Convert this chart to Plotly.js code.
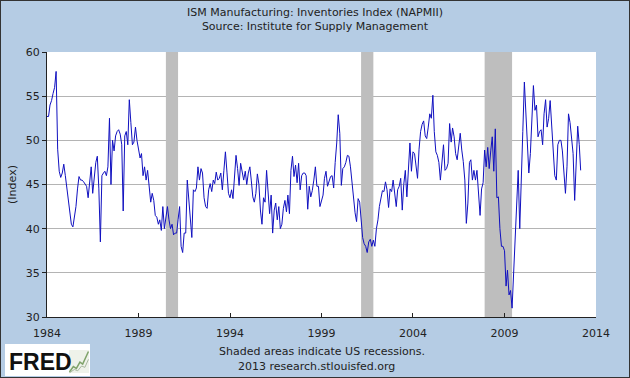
<!DOCTYPE html>
<html>
<head>
<meta charset="utf-8">
<script src="https://cdn.plot.ly/plotly-3.0.1.min.js"></script>
<style>
  html, body { margin: 0; padding: 0; background: #ffffff; }
  #frame { width: 630px; height: 378px; box-sizing: border-box; border: 1px solid #333; background: #B5CCE4; }
  #chart { width: 628px; height: 376px; }
</style>
</head>
<body>
<div id="frame"><div id="chart"></div></div>
<script>
// ISM Manufacturing: Inventories Index (NAPMII), monthly, starting Jan 1984
const startYear = 1984;
const v1984_1988 = [
  52.7, 52.7, 54.0, 54.5, 55.3, 56.0, 57.8, 49.0, 46.5, 45.8, 46.3, 47.3,
  46.0, 44.5, 43.8, 42.0, 40.5, 40.2, 41.2, 42.5, 44.5, 45.9, 45.5, 45.5,
  45.3, 45.0, 44.8, 43.5, 45.5, 47.0, 44.0, 46.0, 47.5, 48.2, 44.5, 38.5,
  46.0, 46.3, 46.5, 46.0, 47.0, 52.5, 45.0, 50.0, 48.8, 50.5, 51.0, 51.2,
  50.7, 49.5, 42.0, 50.5, 51.0, 49.5, 54.6, 52.0, 49.5, 49.8, 51.5, 50.0
];
const v1989_1993 = [
  49.0, 48.0, 48.5, 46.0, 47.0, 45.5, 46.6, 44.5, 43.0, 44.0, 43.2, 41.5,
  41.3, 40.5, 41.0, 39.8, 42.5, 40.0, 41.0, 42.5, 41.0, 40.0, 40.5, 39.3,
  39.5, 39.5, 41.0, 42.5, 38.0, 37.3, 39.5, 39.5, 45.5, 43.0, 41.5, 39.0,
  44.4, 44.2, 44.6, 47.0, 45.5, 46.8, 46.3, 43.5, 42.5, 42.3, 44.4, 45.1,
  44.2, 45.5, 45.1, 46.4, 45.5, 45.7, 46.3, 44.4, 46.6, 48.7, 46.4, 44.0
];
const v1994_1998 = [
  43.5, 44.4, 43.4, 46.0, 48.3, 46.8, 44.9, 47.4, 46.6, 45.5, 46.5, 45.0,
  46.3, 47.0, 45.5, 43.6, 43.0, 44.0, 46.2, 45.0, 42.0, 40.5, 43.5, 43.0,
  46.6, 44.4, 41.7, 43.8, 39.5, 42.1, 42.9, 41.0, 42.5, 40.0, 40.5, 42.3,
  43.2, 41.9, 43.8, 41.7, 46.6, 48.2, 45.9, 47.2, 45.2, 47.4, 44.4, 46.0,
  46.3, 46.3, 46.0, 42.2, 44.8, 43.6, 44.3, 45.5, 47.0, 44.8, 44.8, 42.5
];
const v1999_2003 = [
  43.2, 43.8, 45.7, 46.5, 44.8, 45.3, 45.9, 46.0, 44.6, 47.5, 49.7, 52.9,
  50.8, 44.9, 46.8, 47.0, 47.5, 48.3, 48.2, 47.0, 45.1, 44.0, 41.8, 40.8,
  43.4, 43.0, 40.5, 39.0, 38.3, 38.0, 37.3, 38.5, 38.8, 38.0, 38.7, 38.0,
  40.0, 41.0, 42.5, 43.6, 44.3, 44.2, 45.3, 44.4, 42.4, 44.5, 44.2, 45.5,
  43.6, 42.5, 44.4, 44.8, 45.7, 42.1, 45.0, 46.6, 43.6, 46.2, 49.7, 46.5
];
const v2004_2008 = [
  48.7, 48.5, 47.3, 45.7, 49.0, 51.0, 51.8, 52.2, 50.5, 50.2, 51.5, 53.0,
  52.5, 55.1, 51.0, 48.7, 48.3, 47.5, 45.5, 48.0, 49.5, 46.6, 46.8, 47.4,
  51.9, 49.8, 51.4, 50.4, 48.5, 47.8, 49.3, 50.8, 48.9, 47.6, 45.5, 40.6,
  42.9, 47.5, 47.8, 45.5, 46.6, 45.5, 46.6, 44.5, 41.5, 44.5, 45.2, 48.9,
  47.0, 49.2, 46.8, 48.8, 50.4, 46.5, 51.3, 43.5, 43.6, 40.0, 38.0, 38.0
];
const v2009_2013 = [
  37.5, 33.5, 35.3, 32.5, 33.0, 31.0, 35.0, 39.6, 44.5, 46.6, 40.0, 47.0,
  51.0, 56.6, 53.5, 49.0, 46.3, 48.5, 52.3, 56.2, 53.4, 54.0, 50.4, 51.0,
  51.2, 49.5, 53.0, 54.6, 51.5, 52.5, 54.5, 51.5, 49.0, 46.0, 45.5, 49.5,
  50.0, 50.0, 48.8, 46.8, 44.0, 47.0, 53.0, 52.0, 50.3, 48.5, 43.2, 47.0,
  51.6, 49.5, 46.6
];

// NBER recessions
const recessionStarts = ['1990-07-01', '2001-03-01', '2007-12-01'];
const recessionEnds   = ['1991-03-01', '2001-11-01', '2009-06-01'];

const xTickYears = ['1984', '1989', '1994', '1999', '2004', '2009', '2014'];
const yTicks = [30, 35, 40, 45, 50, 55, 60];

const values = [].concat(v1984_1988, v1989_1993, v1994_1998, v1999_2003, v2004_2008, v2009_2013);
const dates = values.map((v, i) => {
  const y = startYear + Math.floor(i / 12);
  const m = (i % 12) + 1;
  return y + '-' + (m < 10 ? '0' + m : m) + '-01';
});

const font = 'DejaVu Sans, Verdana, sans-serif';
const traces = [];
recessionStarts.forEach((s, k) => {
  const e = recessionEnds[k];
  traces.push({
    x: [s, s, e, e], y: [yTicks[0], yTicks[yTicks.length - 1], yTicks[yTicks.length - 1], yTicks[0]],
    type: 'scatter', mode: 'lines', fill: 'toself', fillcolor: '#BEBEBE',
    line: {width: 0, color: '#BEBEBE'}, hoverinfo: 'skip', showlegend: false
  });
});
traces.push({
  x: dates, y: values, type: 'scatter', mode: 'lines',
  line: {color: '#1010C0', width: 1}, showlegend: false
});

const layout = {
  width: 628, height: 376,
  margin: {l: 46, r: 33, t: 51, b: 60},
  paper_bgcolor: '#B5CCE4', plot_bgcolor: '#FFFFFF',
  font: {family: font, size: 11, color: '#222222'},
  title: {
    text: 'ISM Manufacturing: Inventories Index (NAPMII)<br>Source: Institute for Supply Management',
    font: {family: font, size: 11, color: '#222222'},
    x: 0.5, xref: 'container', xanchor: 'center',
    y: 0.96, yref: 'container', yanchor: 'top'
  },
  xaxis: {
    type: 'date',
    range: [xTickYears[0] + '-01-01', xTickYears[xTickYears.length - 1] + '-01-01'],
    tickvals: xTickYears.map(y => y + '-01-01'), ticktext: xTickYears,
    ticks: 'inside', ticklen: 4, tickcolor: '#222', tickwidth: 1,
    showgrid: false, zeroline: false,
    showline: true, linecolor: '#222', linewidth: 1,
    tickfont: {family: font, size: 11, color: '#222'},
    ticklabelstandoff: 6
  },
  yaxis: {
    range: [yTicks[0], yTicks[yTicks.length - 1]],
    tickvals: yTicks,
    ticks: 'outside', ticklen: 4, tickcolor: '#222', tickwidth: 1,
    showgrid: true, gridcolor: '#B4B4B4', gridwidth: 1, zeroline: false,
    showline: true, linecolor: '#222', linewidth: 1,
    tickfont: {family: font, size: 11, color: '#222'},
    title: {text: '(Index)', font: {family: font, size: 11, color: '#222'}, standoff: 6}
  },
  shapes: [
    {type: 'rect', xref: 'paper', yref: 'paper', x0: -0.0765, x1: 0.0783, y0: -0.2226, y1: -0.1019,
     fillcolor: '#FFFFFF', line: {width: 0}, layer: 'above'},
    {type: 'rect', xref: 'paper', yref: 'paper', x0: 0.0400, x1: 0.0765, y0: -0.2113, y1: -0.1245,
     fillcolor: '#EEF2EA', line: {width: 0}, layer: 'above'},
    {type: 'path', xref: 'paper', yref: 'paper', layer: 'above',
     path: 'M 0.0410 -0.2075 L 0.0480 -0.1870 L 0.0535 -0.1940 L 0.0600 -0.1700 L 0.0650 -0.1780 L 0.0755 -0.1300',
     line: {color: '#7FA36A', width: 1.5}},
    {type: 'path', xref: 'paper', yref: 'paper', layer: 'above',
     path: 'M 0.0410 -0.2100 L 0.0500 -0.1980 L 0.0560 -0.2030 L 0.0630 -0.1850 L 0.0690 -0.1900 L 0.0755 -0.1600',
     line: {color: '#A9B8A0', width: 1}}
  ],
  annotations: [
    {text: 'Shaded areas indicate US recessions.', xref: 'paper', yref: 'paper',
     x: 0.5, y: -0.13, xanchor: 'center', yanchor: 'middle', showarrow: false,
     font: {family: font, size: 11, color: '#222'}},
    {text: '2013 research.stlouisfed.org', xref: 'paper', yref: 'paper',
     x: 0.49, y: -0.185, xanchor: 'center', yanchor: 'middle', showarrow: false,
     font: {family: font, size: 11, color: '#222'}},
    {text: '<b>FRED</b>', xref: 'paper', yref: 'paper',
     x: -0.072, y: -0.168, xanchor: 'left', yanchor: 'middle', showarrow: false,
     font: {family: 'Liberation Sans, Arial, sans-serif', size: 23, color: '#111'}}
  ]
};

Plotly.newPlot('chart', traces, layout, {displayModeBar: false, staticPlot: true});
</script>
</body>
</html>
